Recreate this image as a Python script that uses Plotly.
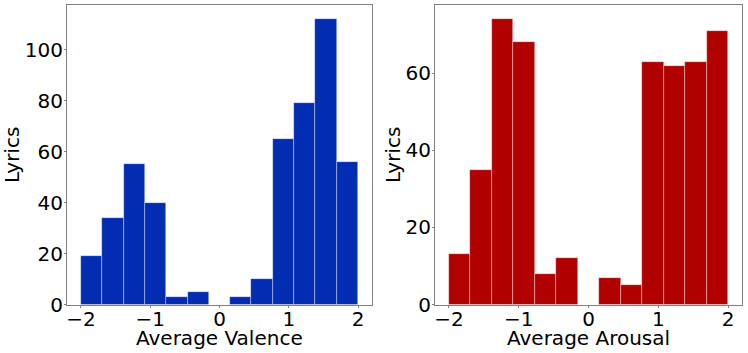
import numpy as np
import plotly.graph_objects as go

# histogram counts, 13 equal bins between -2 and 2
valence_counts = [19, 34, 55, 40, 3, 5, 0, 3, 10, 65, 79, 112, 56]
arousal_counts = [13, 35, 74, 68, 8, 12, 0, 7, 5, 63, 62, 63, 71]
bin_lo, bin_hi = -2.0, 2.0

edges = np.linspace(bin_lo, bin_hi, len(valence_counts) + 1)
centers = (edges[:-1] + edges[1:]) / 2
width = edges[1] - edges[0]

FONT = "DejaVu Sans"
W, H = 748, 353

fig = go.Figure()
fig.add_trace(go.Bar(x=centers, y=valence_counts, width=width, xaxis="x", yaxis="y",
                     marker=dict(color="#022cb2", line=dict(color="rgba(255,255,255,0.6)", width=0.6))))
fig.add_trace(go.Bar(x=centers, y=arousal_counts, width=width, xaxis="x2", yaxis="y2",
                     marker=dict(color="#b00000", line=dict(color="rgba(255,255,255,0.6)", width=0.6))))

axis_style = dict(showgrid=False, zeroline=False, showline=True, mirror=True, automargin=False,
                  linecolor="#808080", linewidth=1.2, ticks="outside", ticklen=2,
                  tickcolor="#808080", tickfont=dict(size=20, color="black", family=FONT))

left_dom = [67 / W, 372 / W]
right_dom = [435 / W, 742 / W]
y_dom = [1 - 304.5 / H, 1 - 5 / H]

titles = [
    dict(text="Average Valence", x=sum(left_dom) / 2, y=1 - 338 / H, textangle=0),
    dict(text="Average Arousal", x=sum(right_dom) / 2, y=1 - 338 / H, textangle=0),
    dict(text="Lyrics", x=12 / W, y=1 - 155 / H, textangle=-90),
    dict(text="Lyrics", x=393 / W, y=1 - 155 / H, textangle=-90),
]

fig.update_layout(
    width=W, height=H, margin=dict(l=0, r=0, t=0, b=0),
    paper_bgcolor="white", plot_bgcolor="white", showlegend=False, bargap=0,
    font=dict(family=FONT, color="black"),
    xaxis=dict(domain=left_dom, range=[-2.2, 2.2], tickvals=[-2, -1, 0, 1, 2],
               ticklabelstandoff=-6, **axis_style),
    yaxis=dict(domain=y_dom, range=[0, 117.6], tickvals=[0, 20, 40, 60, 80, 100],
               ticklabelstandoff=-3, **axis_style),
    xaxis2=dict(domain=right_dom, range=[-2.2, 2.2], tickvals=[-2, -1, 0, 1, 2], anchor="y2",
                ticklabelstandoff=-6, **axis_style),
    yaxis2=dict(domain=y_dom, range=[0, 77.7], tickvals=[0, 20, 40, 60], anchor="x2",
                ticklabelstandoff=-3, **axis_style),
    annotations=[dict(text=t["text"], x=t["x"], y=t["y"], xref="paper", yref="paper",
                      xanchor="center", yanchor="middle", textangle=t["textangle"],
                      showarrow=False, font=dict(size=20, color="black", family=FONT))
                 for t in titles],
)

fig.write_html("out.html", config={"displayModeBar": False},
               post_script="document.body.style.margin='0';")
